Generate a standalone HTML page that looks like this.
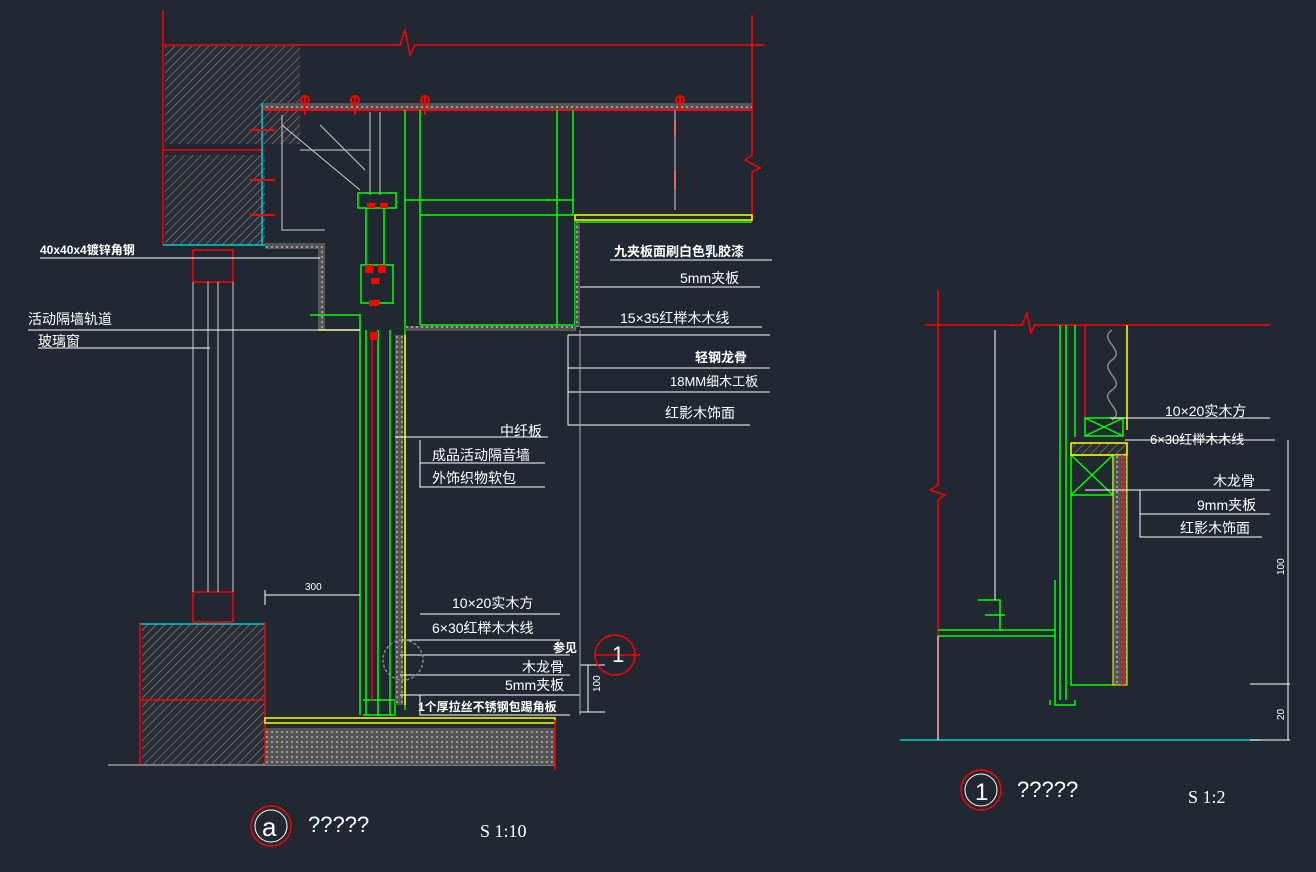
<!DOCTYPE html>
<html><head><meta charset="utf-8"><style>
html,body{margin:0;padding:0;background:#222831;}
svg{display:block}
text{font-family:"Liberation Sans","Noto Sans CJK SC",sans-serif;fill:#fff;}
</style></head><body>
<svg width="1316" height="872" viewBox="0 0 1316 872" xmlns="http://www.w3.org/2000/svg">
<defs>
<pattern id="h" width="6" height="6" patternUnits="userSpaceOnUse" patternTransform="rotate(45)">
<rect width="6" height="6" fill="#2a2f37"/><line x1="0" y1="0" x2="0" y2="6" stroke="#9a9a9a" stroke-width="1"/></pattern>
<pattern id="d" width="5" height="5" patternUnits="userSpaceOnUse">
<rect width="5" height="5" fill="#555"/><rect x="1" y="1" width="2" height="2" fill="#999"/></pattern>
</defs>
<rect width="1316" height="872" fill="#222831"/>
<!-- LEFT DRAWING -->
<g fill="none" stroke-width="1.5">
<!-- top slab -->
<path d="M163 45 H400 L405 30 L410 55 L415 45 H765" stroke="#f00"/>
<line x1="163" y1="10" x2="163" y2="245" stroke="#f00"/>
<path d="M752 15 V155 L745 160 L760 168 L752 172 V222" stroke="#f00"/>
<rect x="165" y="46" width="135" height="98" fill="url(#h)" stroke="none"/>
<rect x="165" y="155" width="100" height="90" fill="url(#h)" stroke="none"/>
<line x1="163" y1="150" x2="265" y2="150" stroke="#f00"/>
<rect x="262" y="103" width="490" height="7" fill="url(#d)" stroke="none"/>
<line x1="262" y1="110" x2="752" y2="110" stroke="#f00" stroke-width="2"/>
<line x1="262" y1="103" x2="262" y2="245" stroke="#0cc"/>
<line x1="163" y1="245" x2="320" y2="245" stroke="#0cc"/>
<rect x="265" y="243" width="60" height="6" fill="url(#d)" stroke="none"/>
<rect x="318" y="245" width="7" height="85" fill="url(#d)" stroke="none"/>
<line x1="318" y1="330" x2="360" y2="330" stroke="#ff0"/>
<!-- hangers -->
<g stroke="#f00" stroke-width="2">
<path d="M305 95 v20 M355 95 v20 M425 95 v20 M680 95 v15 M675 120 v15 M675 170 v20 M250 130 h25 M250 180 h25 M250 215 h25"/>
<circle cx="305" cy="100" r="4"/><circle cx="355" cy="100" r="4"/><circle cx="425" cy="100" r="4"/><circle cx="680" cy="100" r="4"/>
</g>
<!-- brackets -->
<g stroke="#ccc" stroke-width="1">
<path d="M282 115 V230 H325 M282 125 L360 190 M320 125 L365 170 M300 150 H370 M370 112 V195 M380 112 V195"/>
<line x1="675" y1="110" x2="675" y2="210"/>
</g>
<!-- green frame -->
<g stroke="#0f0">
<rect x="358" y="193" width="38" height="15"/>
<rect x="361" y="265" width="32" height="38"/>
<path d="M366 208 V265 M384 208 V265"/>
<path d="M405 110 V215 M420 110 V325 M557 110 V325 M573 110 V215 M405 200 H573 M420 215 H573 M420 325 H573"/>
<path d="M405 215 V330 H575 V222 H752"/>
<path d="M360 330 V715 M366 330 V715 M378 330 V715 M390 330 V715 M405 330 V710"/>
<path d="M310 315 H360 V330"/>
<path d="M363 700 H395 V715 H363"/>
</g>
<rect x="575" y="215" width="177" height="5" fill="none" stroke="#ff0"/>
<rect x="575" y="222" width="5" height="105" fill="url(#d)" stroke="none"/>
<rect x="405" y="326" width="170" height="5" fill="url(#d)" stroke="none"/>
<rect x="395" y="335" width="8" height="370" fill="url(#d)" stroke="none"/>
<line x1="405" y1="335" x2="405" y2="705" stroke="#ff0"/>
<line x1="372" y1="335" x2="372" y2="700" stroke="#f00"/>
<g fill="#f00" stroke="none">
<rect x="365" y="265" width="8" height="8"/><rect x="378" y="265" width="8" height="8"/><rect x="371" y="278" width="8" height="6"/><rect x="369" y="300" width="10" height="6"/><rect x="370" y="332" width="8" height="8"/><rect x="367" y="203" width="8" height="5"/><rect x="380" y="203" width="8" height="5"/>
</g>
<!-- window -->
<rect x="193" y="250" width="40" height="32" stroke="#f00"/>
<rect x="193" y="592" width="40" height="30" stroke="#f00"/>
<path d="M193 282 V592 M233 282 V592 M208 282 V592 M218 282 V592" stroke="#ccc" stroke-width="1"/>
<!-- lower wall -->
<rect x="142" y="624" width="123" height="140" fill="url(#h)" stroke="none"/>
<line x1="140" y1="624" x2="265" y2="624" stroke="#0cc"/>
<line x1="140" y1="700" x2="265" y2="700" stroke="#f00"/>
<line x1="140" y1="622" x2="140" y2="765" stroke="#f00"/>
<line x1="265" y1="622" x2="265" y2="765" stroke="#f00"/>
<line x1="108" y1="765" x2="555" y2="765" stroke="#ccc" stroke-width="1"/>
<rect x="265" y="718" width="290" height="5" fill="none" stroke="#ff0"/>
<rect x="265" y="728" width="290" height="37" fill="url(#d)" stroke="none"/>
<line x1="555" y1="720" x2="555" y2="770" stroke="#f00"/>
<!-- leader lines -->
<g stroke="#fff" stroke-width="1">
<path d="M40 258 H320 M28 330 H360 M38 348 H210 M610 260 H772 M580 287 H760 M580 327 H762 M568 335 H770 M568 368 H770 M568 392 H770 M568 335 V425 H750"/>
<path d="M395 437 H548 M420 440 V487 H545 M420 463 H545 M420 614 H560 M400 640 H560 M400 655 H570 M400 675 H570 M400 695 H580 M420 695 V715 H570"/>
<path d="M265 590 V605 M265 595 H360 M588 665 V712 M580 665 H605 M580 712 H605"/>
<line x1="580" y1="330" x2="580" y2="715" stroke="#aaa"/>
</g>
<circle cx="403" cy="660" r="20" stroke="#888" stroke-dasharray="3 2"/>
<circle cx="615" cy="655" r="20" stroke="#f00"/>
<line x1="595" y1="655" x2="640" y2="655" stroke="#f00"/>
<circle cx="271" cy="826" r="20" stroke="#f00"/>
<circle cx="271" cy="826" r="16" stroke="#fff" stroke-width="1"/>
</g>
<g font-size="14">
<text x="40" y="254" font-size="12" font-weight="bold">40x40x4镀锌角钢</text>
<text x="28" y="324">活动隔墙轨道</text>
<text x="38" y="346">玻璃窗</text>
<text x="614" y="256" font-size="13" font-weight="bold">九夹板面刷白色乳胶漆</text>
<text x="680" y="283">5mm夹板</text>
<text x="620" y="323">15×35红榉木木线</text>
<text x="695" y="362" font-size="13" font-weight="bold">轻钢龙骨</text>
<text x="670" y="386" font-size="13">18MM细木工板</text>
<text x="665" y="418">红影木饰面</text>
<text x="500" y="436">中纤板</text>
<text x="432" y="460">成品活动隔音墙</text>
<text x="432" y="483">外饰织物软包</text>
<text x="305" y="590" font-size="10">300</text>
<text x="452" y="608">10×20实木方</text>
<text x="432" y="633">6×30红榉木木线</text>
<text x="553" y="652" font-size="12" font-weight="bold">参见</text>
<text x="522" y="672">木龙骨</text>
<text x="505" y="690">5mm夹板</text>
<text x="418" y="711" font-size="12" font-weight="bold">1个厚拉丝不锈钢包踢角板</text>
<text x="600" y="692" font-size="10" transform="rotate(-90 600 692)">100</text>
<text x="612" y="662" font-size="22" fill="#fff">1</text>
<text x="262" y="836" font-size="26">a</text>
<text x="308" y="832" font-size="22">?????</text>
<text x="480" y="837" font-size="18" style="font-family:'Liberation Serif',serif">S 1:10</text>
</g>
<!-- RIGHT DRAWING -->
<g fill="none" stroke-width="1.5">
<path d="M925 325 H1022 L1027 313 L1031 333 L1035 325 H1270" stroke="#f00"/>
<path d="M938 290 V485 L930 490 L945 495 L938 500 V740" stroke="#f00"/>
<line x1="900" y1="740" x2="1260" y2="740" stroke="#0cc"/>
<line x1="1085" y1="325" x2="1085" y2="418" stroke="#f00"/>
<line x1="1127" y1="325" x2="1127" y2="430" stroke="#ff0"/>
<path d="M1092 330 c-15 10 15 20 0 30 c-15 10 15 20 0 30 c-15 10 15 20 0 30" stroke="#888" transform="translate(20 0)"/>
<g stroke="#0f0">
<path d="M1060 325 V700 M1066 325 V700 M1075 325 V437 M1050 700 V705 M1055 580 V705 H1075 V700"/>
<rect x="1085" y="418" width="38" height="18"/>
<rect x="1071" y="455" width="42" height="40"/>
<path d="M1071 455 L1113 495 M1113 455 L1071 495 M1085 418 L1123 436 M1123 418 L1085 436"/>
<path d="M1071 495 V685 H1113"/>
<path d="M938 630 H1055 M938 636 H1055 M978 600 H1000 V630 M985 615 H1005"/>
</g>
<rect x="1071" y="443" width="56" height="12" fill="url(#h)" stroke="#ff0"/>
<rect x="1113" y="455" width="14" height="230" fill="url(#d)" stroke="#ff0" stroke-width="1"/>
<line x1="1122" y1="455" x2="1122" y2="685" stroke="#f00"/>
<g stroke="#fff" stroke-width="1">
<path d="M1110 418 H1270 M1125 440 H1275 M1085 490 H1270 M1140 490 V537 H1262 M1140 514 H1270"/>
<path d="M995 330 V600 M938 636 V740"/>
<path d="M1250 684 H1290 M1250 740 H1290 M1288 440 V740"/>
</g>
<circle cx="981" cy="790" r="20" stroke="#f00"/>
<circle cx="981" cy="790" r="16" stroke="#fff" stroke-width="1"/>
</g>
<g font-size="14">
<text x="1165" y="416">10×20实木方</text>
<text x="1150" y="444" font-size="13">6×30红榉木木线</text>
<text x="1213" y="486">木龙骨</text>
<text x="1197" y="510">9mm夹板</text>
<text x="1180" y="533">红影木饰面</text>
<text x="1284" y="575" font-size="10" transform="rotate(-90 1284 575)">100</text>
<text x="1284" y="720" font-size="10" transform="rotate(-90 1284 720)">20</text>
<text x="975" y="800" font-size="24">1</text>
<text x="1017" y="797" font-size="22">?????</text>
<text x="1188" y="803" font-size="18" style="font-family:'Liberation Serif',serif">S 1:2</text>
</g>
</svg>
</body></html>
